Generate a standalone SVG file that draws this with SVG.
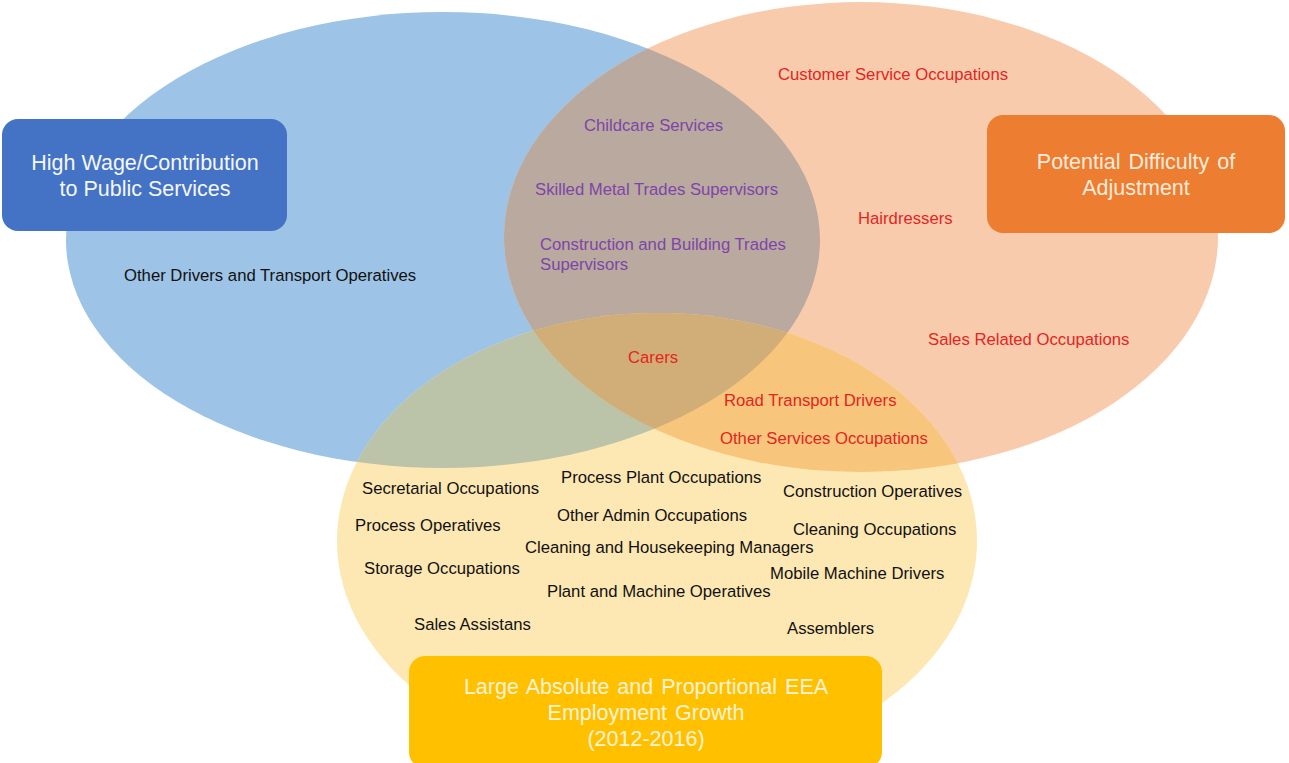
<svg xmlns="http://www.w3.org/2000/svg" width="1289" height="763" viewBox="0 0 1289 763">
  <style>
    .lbl { font-family: "Liberation Sans", Arial, sans-serif; font-size: 16.7px; }
    .blk { fill: #111111; }
    .red { fill: #E3261E; }
    .pur { fill: #7D45A8; }
    .title { font-family: "Liberation Sans", Arial, sans-serif; font-size: 21.5px; text-anchor: middle; word-spacing: 2px; }
  </style>
  <defs>
    <clipPath id="clipBlue"><ellipse cx="443" cy="240" rx="377" ry="228"/></clipPath>
    <clipPath id="clipOrange"><ellipse cx="861" cy="237" rx="357" ry="235"/></clipPath>
    <clipPath id="clipYellow"><ellipse cx="657" cy="541" rx="320" ry="228"/></clipPath>
  </defs>

  <rect width="1289" height="763" fill="#FFFFFF"/>

  <!-- Venn sets -->
  <g id="set-high-wage">
    <ellipse cx="443" cy="240" rx="377" ry="228" fill="#9DC3E6"/>
  </g>
  <g id="set-difficulty">
    <ellipse cx="861" cy="237" rx="357" ry="235" fill="#F8CBAD"/>
  </g>
  <g id="set-growth">
    <ellipse cx="657" cy="541" rx="320" ry="228" fill="#FDE8B3"/>
  </g>

  <!-- Overlap regions -->
  <g id="overlaps">
    <ellipse cx="861" cy="237" rx="357" ry="235" fill="#BAA99F" clip-path="url(#clipBlue)"/>
    <ellipse cx="657" cy="541" rx="320" ry="228" fill="#BBC3A8" clip-path="url(#clipBlue)"/>
    <ellipse cx="657" cy="541" rx="320" ry="228" fill="#F7C57C" clip-path="url(#clipOrange)"/>
    <g clip-path="url(#clipBlue)">
      <ellipse cx="657" cy="541" rx="320" ry="228" fill="#D1AE78" clip-path="url(#clipOrange)"/>
    </g>
  </g>

  <!-- Category headers -->
  <g id="hdr-high-wage">
    <rect x="2" y="119" width="285" height="112" rx="16" fill="#4472C4"/>
    <text class="title" x="145" y="170" fill="#F4F7FC" style="word-spacing:0">High Wage/Contribution</text>
    <text class="title" x="145" y="196" fill="#F4F7FC" style="word-spacing:0">to Public Services</text>
  </g>
  <g id="hdr-difficulty">
    <rect x="987" y="115" width="298" height="118" rx="16" fill="#ED7D31"/>
    <text class="title" x="1136" y="169" fill="#FDEBDC">Potential Difficulty of</text>
    <text class="title" x="1136" y="195" fill="#FDEBDC">Adjustment</text>
  </g>
  <g id="hdr-growth">
    <rect x="409" y="656" width="473" height="112" rx="16" fill="#FFC000"/>
    <text class="title" x="646" y="694" fill="#FFF3D6">Large Absolute and Proportional EEA</text>
    <text class="title" x="646" y="720" fill="#FFF3D6">Employment Growth</text>
    <text class="title" x="646" y="746" fill="#FFF3D6">(2012-2016)</text>
  </g>

  <!-- Occupation labels -->
  <g id="labels" class="lbl">
    <text class="red" x="778" y="80">Customer Service Occupations</text>
    <text class="pur" x="584" y="131">Childcare Services</text>
    <text class="pur" x="535" y="195">Skilled Metal Trades Supervisors</text>
    <text class="pur" x="540" y="250">Construction and Building Trades</text>
    <text class="pur" x="540" y="270">Supervisors</text>
    <text class="red" x="858" y="224">Hairdressers</text>
    <text class="blk" x="124" y="281">Other Drivers and Transport Operatives</text>
    <text class="red" x="928" y="345">Sales Related Occupations</text>
    <text class="red" x="628" y="363">Carers</text>
    <text class="red" x="724" y="406">Road Transport Drivers</text>
    <text class="red" x="720" y="444">Other Services Occupations</text>
    <text class="blk" x="561" y="483">Process Plant Occupations</text>
    <text class="blk" x="362" y="494">Secretarial Occupations</text>
    <text class="blk" x="783" y="497">Construction Operatives</text>
    <text class="blk" x="557" y="521">Other Admin Occupations</text>
    <text class="blk" x="355" y="531">Process Operatives</text>
    <text class="blk" x="793" y="535">Cleaning Occupations</text>
    <text class="blk" x="525" y="553">Cleaning and Housekeeping Managers</text>
    <text class="blk" x="364" y="574">Storage Occupations</text>
    <text class="blk" x="770" y="579">Mobile Machine Drivers</text>
    <text class="blk" x="547" y="597">Plant and Machine Operatives</text>
    <text class="blk" x="414" y="630">Sales Assistans</text>
    <text class="blk" x="787" y="634">Assemblers</text>
  </g>
</svg>
